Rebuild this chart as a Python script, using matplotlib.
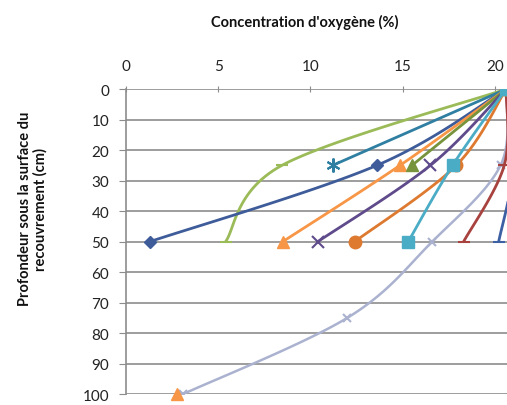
import numpy as np
import matplotlib
matplotlib.use('Agg')
import matplotlib.pyplot as plt

plt.rcParams['font.family'] = ['Lato', 'DejaVu Sans']

# depths (cm) and oxygen concentrations (%)
depth_3 = [0, 25, 50]
depth_2 = [0, 25]
depth_5 = [0, 25, 50, 75, 100]

navy_diamond = [20.6, 13.6, 1.3]
green_dash = [20.6, 8.45, 5.4]
teal_star = [20.6, 11.2]
orange_tri = [20.6, 14.85, 8.5]
olive_tri = [20.6, 15.5]
purple_x = [20.6, 16.5, 10.4]
orange_circle = [20.6, 17.9, 12.4]
cyan_square = [20.6, 17.7, 15.3]
grey_x = [20.6, 20.3, 16.6, 12.0, 3.1]
red_dash = [20.6, 20.5, 18.3]
blue_dash = [20.6, 21.0, 20.2]
orange_tri_bottom = [2.75]
depth_bottom = [100]

x_ticks = [0, 5, 10, 15, 20]
y_ticks = list(range(0, 101, 10))


def smooth(xs, ys, n=30):
    # Catmull-Rom style smoothing like the spreadsheet's "smoothed line"
    xs = np.asarray(xs, float)
    ys = np.asarray(ys, float)
    if len(xs) < 3:
        return xs, ys
    px = np.concatenate([[xs[0]], xs, [xs[-1]]])
    py = np.concatenate([[ys[0]], ys, [ys[-1]]])
    out_x, out_y = [], []
    t = np.linspace(0, 1, n)
    for i in range(1, len(px) - 2):
        p0, p1, p2, p3 = (np.array([px[j], py[j]]) for j in range(i - 1, i + 3))
        c1 = p1 + (p2 - p0) / 6
        c2 = p2 - (p3 - p1) / 6
        pts = ((1 - t) ** 3)[:, None] * p1 + (3 * (1 - t) ** 2 * t)[:, None] * c1 \
            + (3 * (1 - t) * t ** 2)[:, None] * c2 + (t ** 3)[:, None] * p2
        out_x.extend(pts[:, 0])
        out_y.extend(pts[:, 1])
    return np.array(out_x), np.array(out_y)


fig = plt.figure(figsize=(5.07, 4.06), dpi=100)
ax = fig.add_axes([0.2485, 0.027, 0.7515, 0.751])

series = [
    (grey_x, depth_5, '#AAB2D0', 'x', 6, 1.8),
    (blue_dash, depth_3, '#3D5FA3', '_', 8, 2.0),
    (red_dash, depth_3, '#A8423F', '_', 8, 2.0),
    (green_dash, depth_3, '#9BBB59', '_', 8, 2.0),
    (navy_diamond, depth_3, '#3E5C9A', 'D', 6, 2.0),
    (teal_star, depth_2, '#2F7FA2', (6, 2, 0), 10, 2.0),
    (orange_tri, depth_3, '#F79646', '^', 8, 2.0),
    (olive_tri, depth_2, '#77933C', '^', 8, 2.0),
    (purple_x, depth_3, '#5F4B8B', 'x', 9, 2.0),
    (orange_circle, depth_3, '#DD7A30', 'o', 9, 2.0),
    (cyan_square, depth_3, '#4BACC6', 's', 9, 2.0),
]

for xs, ys, color, marker, ms, lw in series:
    sx, sy = smooth(xs, ys)
    ax.plot(sx, sy, color=color, lw=lw, solid_capstyle='round')
    ax.plot(xs, ys, linestyle='none', marker=marker, color=color,
            markersize=ms, markeredgewidth=1.5 if marker in ('x', '_', (6, 2, 0)) else 1)

ax.plot(orange_tri_bottom, depth_bottom, linestyle='none', marker='^',
        color='#F79646', markersize=8, clip_on=False)

ax.set_xlim(0, 20.65)
ax.set_ylim(100, 0)
ax.set_xticks(x_ticks)
ax.set_yticks(y_ticks)
ax.xaxis.tick_top()
ax.tick_params(axis='x', direction='inout', length=5, color='#8C8C8C',
               labelsize=11, pad=9, labelcolor='#222222')
ax.tick_params(axis='y', direction='out', length=5, color='#8C8C8C',
               labelsize=11, pad=7, labelcolor='#222222')
ax.yaxis.grid(True, color='#8C8C8C', lw=1.2)
ax.set_axisbelow(True)
for side in ('right', 'bottom', 'top'):
    ax.spines[side].set_visible(False)
ax.spines['left'].set_color('#8C8C8C')
ax.spines['left'].set_linewidth(1.2)

fig.text(0.602, 0.945, "Concentration d'oxygène (%)", ha='center', va='center',
         fontsize=10.5, fontweight='bold', color='#111111')
fig.text(0.065, 0.485, 'Profondeur sous la surface du\nrecouvrement (cm)',
         ha='center', va='center', rotation=90, fontsize=10.5,
         fontweight='bold', color='#111111', linespacing=1.15)

fig.savefig('out.png', dpi=100)
